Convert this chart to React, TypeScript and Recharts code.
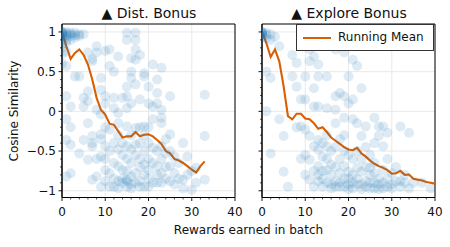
import { ComposedChart, Scatter, Line, XAxis, YAxis, CartesianGrid, ReferenceArea } from 'recharts';

const BLUE = '#1f77b4';
const ORANGE = '#d95f02';
const FONT = '"DejaVu Sans", sans-serif';

const xTicks = [0, 2, 4, 6, 8, 10, 12, 14, 16, 18, 20, 22, 24, 26, 28, 30, 32, 34, 36, 38, 40];
const xMajor = [0, 10, 20, 30, 40];
const yTicks = [-1, -0.9, -0.8, -0.7, -0.6, -0.5, -0.4, -0.3, -0.2, -0.1, 0, 0.1, 0.2, 0.3, 0.4, 0.5, 0.6, 0.7, 0.8, 0.9, 1];
const yMajor = [-1, -0.5, 0, 0.5, 1];
const yDomain = [-1.085, 1.1];

// scatter: [rewards earned, cosine similarity]
const distPoints: [number, number][] = [
  [0, 1.0], [0, 1.0], [0, 0.99], [0, 0.98], [0, 0.97], [0, 0.95], [0, 0.93], [0, 0.9], [0, 0.85], [0, 0.8], [0, 0.72], [0, 0.6],
  [1, 1.0], [1, 0.98], [1, 0.96], [1, 0.94], [1, 0.9], [1, 0.86], [1, 0.75], [1, 0.57], [1, 0.19], [1, -0.1], [1, -0.36], [1, -0.82],
  [2, 0.99], [2, 0.97], [2, 0.95], [2, 0.9], [2, 0.06], [2, -0.2], [2, -0.42], [2, -0.78],
  [3, 0.99], [3, 0.96], [3, 0.93], [3, 0.44],
  [4, 0.97], [4, 0.95], [4, 0.44], [4, -0.53],
  [5, 0.97], [5, 0.17], [5, 0.06], [5, -0.36],
  [6, 0.74], [6, 0.25], [6, 0.13], [6, -0.15], [6, -0.61],
  [7, 0.63], [7, 0.66], [7, -0.31], [7, -0.44], [7, -0.86], [7, -0.4],
  [8, 0.82], [8, 0.74], [8, 0.02], [8, -0.82], [8, -0.6],
  [9, 0.42], [9, 0.27], [9, -0.04], [9, -0.29], [9, -0.57], [9, -0.95], [9, -0.35],
  [10, 0.76], [10, 0.19], [10, 0.1], [10, -0.44], [10, -0.74], [10, -0.88], [10, -0.6], [10, -0.2],
  [11, 0.78], [11, 0.57], [11, -0.23], [11, -0.78], [11, -0.5], [11, -0.95],
  [12, 0.5], [12, 0.17], [12, 0.04], [12, -0.4], [12, -0.95], [12, -0.65], [12, -0.85],
  [13, 0.69], [13, -0.02], [13, -0.15], [13, -0.48], [13, -0.69], [13, -0.88], [13, -0.3], [13, -0.97],
  [14, 0.17], [14, -0.74], [14, -0.55], [14, -0.85], [14, -0.9], [14, -0.4],
  [15, 0.99], [15, 0.9], [15, 0.31], [15, 0.19], [15, 0.04], [15, -0.19], [15, -0.44], [15, -0.86], [15, -0.95], [15, -0.6], [15, -0.75], [15, -0.88],
  [16, 0.67], [16, 0.42], [16, 0.5], [16, 0.1], [16, -0.48], [16, -0.82], [16, -0.92], [16, -0.3], [16, -0.65], [16, -0.97],
  [17, 0.99], [17, 0.9], [17, 0.78], [17, 0.65], [17, 0.34], [17, -0.21], [17, -0.78], [17, -0.55], [17, -0.9], [17, -0.42],
  [18, 0.71], [18, 0.15], [18, -0.4], [18, -0.88], [18, -0.7], [18, -0.2], [18, -0.6], [18, -0.95],
  [19, 0.48], [19, 0.44], [19, -0.19], [19, -0.67], [19, -0.95], [19, -0.5], [19, -0.8], [19, -0.3],
  [20, 0.31], [20, 0.1], [20, -0.4], [20, -0.74], [20, -0.95], [20, -0.6], [20, -0.85], [20, -0.2],
  [21, 0.59], [21, 0.06], [21, -0.1], [21, -0.46], [21, -0.65], [21, -0.9],
  [22, 0.4], [22, 0.23], [22, 0.1], [22, -0.69], [22, -0.9], [22, -0.5], [22, -0.8],
  [23, 0.55], [23, 0.02], [23, -0.08], [23, -0.15], [23, -0.44], [23, -0.78], [23, -0.9], [23, -0.6],
  [24, -0.53], [24, -0.35], [24, -0.85], [24, -0.7],
  [25, 0.19], [25, -0.29], [25, -0.69], [25, -0.88], [25, -0.5],
  [26, -0.57], [26, -0.78], [26, -0.92],
  [27, -0.65], [27, -0.85],
  [28, -0.4], [28, -0.86], [28, -0.97],
  [29, -0.57], [29, -0.8],
  [30, -0.99], [30, -0.75],
  [31, -0.71], [31, -0.9],
  [33, 0.21], [33, -0.31], [33, -0.86],
];

const explorePoints: [number, number][] = [
  [0, 1.0], [0, 1.0], [0, 0.99], [0, 0.98], [0, 0.97], [0, 0.95], [0, 0.93],
  [1, 0.99], [1, 0.96], [1, 0.92], [1, 0.5], [1, 0.0],
  [2, 0.97], [2, 0.9], [2, 0.42], [2, -0.53],
  [3, 0.94],
  [4, 0.82], [4, -0.1],
  [5, -0.31], [5, -0.76],
  [6, -0.95],
  [7, 0.71], [7, 0.44],
  [8, 0.61], [8, 0.31], [8, -0.2],
  [9, 0.15], [9, -0.19], [9, -0.6],
  [10, 0.44], [10, 0.15], [10, -0.23], [10, -0.55], [10, -0.8],
  [11, 0.78], [11, 0.63], [11, -0.31], [11, -0.61], [11, -0.86],
  [12, 0.69], [12, 0.29], [12, 0.06], [12, -0.44], [12, -0.75], [12, -0.95],
  [13, 0.59], [13, 0.44], [13, 0.06], [13, -0.36], [13, -0.48], [13, -0.69], [13, -0.88], [13, -0.8],
  [14, -0.57], [14, -0.95], [14, -0.75], [14, -0.4], [14, -0.85],
  [15, 0.44], [15, 0.04], [15, -0.44], [15, -0.74], [15, -0.9], [15, -0.6], [15, -0.3],
  [16, -0.67], [16, -0.92], [16, -0.8], [16, -0.5], [16, -0.97],
  [17, 0.78], [17, 0.19], [17, 0.02], [17, -0.15], [17, -0.88], [17, -0.7], [17, -0.95], [17, -0.45],
  [18, 0.23], [18, -0.78], [18, -0.95], [18, -0.6], [18, -0.9], [18, -0.35],
  [19, 0.74], [19, 0.19], [19, -0.08], [19, -0.69], [19, -0.85], [19, -0.95], [19, -0.5], [19, -0.3],
  [20, 0.44], [20, 0.1], [20, -0.76], [20, -0.92], [20, -0.98], [20, -0.55], [20, -0.85],
  [21, 0.65], [21, 0.15], [21, -0.1], [21, -0.97], [21, -0.8], [21, -0.6], [21, -0.9],
  [22, 0.57], [22, -0.15], [22, -0.71], [22, -0.92], [22, -0.5], [22, -0.85],
  [23, 0.29], [23, -0.31], [23, -0.76], [23, -0.92], [23, -0.98], [23, -0.6],
  [24, -0.19], [24, -0.88], [24, -0.7], [24, -0.95], [24, -0.45],
  [25, -0.71], [25, -0.9], [25, -0.97], [25, -0.55], [25, -0.8],
  [26, -0.08], [26, -0.4], [26, -0.78], [26, -0.97], [26, -0.9], [26, -0.65],
  [27, -0.19], [27, -0.31], [27, -0.92], [27, -0.85], [27, -0.98],
  [28, -0.19], [28, -0.44], [28, -0.74], [28, -0.97], [28, -0.9],
  [29, -0.27], [29, -0.85], [29, -0.95], [29, -0.6],
  [30, -0.78], [30, -0.92], [30, -0.97],
  [31, -0.88], [31, -0.7],
  [32, -0.19], [32, -0.88], [32, -0.95],
  [33, -0.9], [33, -0.8],
  [34, -0.27], [34, -0.97],
  [35, -0.9],
  [37, -0.9],
  [39, -0.97],
];

// running means
const distMeanX = [0, 1, 2, 3, 4, 5, 6, 7, 8, 9, 10, 11, 12, 13, 14, 15, 16, 17, 18, 19, 20, 21, 22, 23, 24, 25, 26, 27, 28, 29, 30, 31, 32, 33];
const distMean = [1.0, 0.82, 0.66, 0.735, 0.78, 0.71, 0.59, 0.4, 0.17, 0.02, -0.04, -0.155, -0.17, -0.25, -0.33, -0.315, -0.315, -0.26, -0.315, -0.295, -0.29, -0.315, -0.36, -0.41, -0.5, -0.53, -0.6, -0.62, -0.65, -0.69, -0.735, -0.77, -0.69, -0.63];
const exploreMeanX = [0, 1, 2, 3, 4, 5, 6, 7, 8, 9, 10, 11, 12, 13, 14, 15, 16, 17, 18, 19, 20, 21, 22, 23, 24, 25, 26, 27, 28, 29, 30, 31, 32, 33, 34, 35, 36, 37, 38, 39, 40];
const exploreMean = [1.0, 0.86, 0.685, 0.78, 0.63, 0.315, -0.06, -0.1, -0.03, -0.03, -0.09, -0.1, -0.15, -0.22, -0.2, -0.26, -0.33, -0.37, -0.41, -0.45, -0.48, -0.49, -0.46, -0.53, -0.57, -0.62, -0.66, -0.69, -0.71, -0.74, -0.785, -0.78, -0.75, -0.8, -0.795, -0.85, -0.86, -0.87, -0.89, -0.9, -0.91];

const isMajor = (list: number[], v: number) => list.some(m => Math.abs(m - v) < 1e-6);
const fmtY = (v: number) => (v < 0 ? '\u2212' + String(-v) : String(v));

function XTick(props: any) {
  const { x, y, payload } = props;
  const v = payload.value;
  const major = isMajor(xMajor, v);
  return (
    <g>
      <line x1={x} x2={x} y1={y} y2={y + (major ? 3.5 : 2)} stroke="#000" strokeWidth={major ? 0.9 : 0.7} />
      {major && (
        <text x={x} y={y + 18.5} textAnchor="middle" fontSize={12} fontFamily={FONT} fill="#111">{v}</text>
      )}
    </g>
  );
}

function YTick(props: any) {
  const { x, y, payload, showLabel } = props;
  const v = payload.value;
  const major = isMajor(yMajor, v);
  return (
    <g>
      <line x1={x - (major ? 3.5 : 2)} x2={x} y1={y} y2={y} stroke="#000" strokeWidth={major ? 0.9 : 0.7} />
      {major && showLabel && (
        <text x={x - 6} y={y} dy="0.36em" textAnchor="end" fontSize={12} fontFamily={FONT} fill="#111">{fmtY(v)}</text>
      )}
    </g>
  );
}

function Panel({ points, meanX, meanY, yWidth, width, right, showLabels }: {
  points: [number, number][];
  meanX: number[];
  meanY: number[];
  yWidth: number;
  width: number;
  right: number;
  showLabels: boolean;
}) {
  const scatterData = points.map(([x, y]) => ({ x, y }));
  const lineData = meanX.map((x, i) => ({ x, y: meanY[i] }));
  return (
    <ComposedChart width={width} height={247} margin={{ top: 24, right, bottom: 29.5, left: 0 }}>
      <CartesianGrid horizontalValues={yMajor} verticalValues={xMajor} stroke="#e6e6e6" strokeWidth={0.9} />
      <XAxis
        type="number" dataKey="x" domain={[0, 40]} ticks={xTicks} interval={0} allowDataOverflow
        height={20} tickSize={0} tickMargin={0} tickLine={false} axisLine={{ stroke: '#000', strokeWidth: 1 }}
        tick={<XTick />}
      />
      <YAxis
        type="number" dataKey="y" domain={yDomain} ticks={yTicks} interval={0} allowDataOverflow
        width={yWidth} tickSize={0} tickMargin={0} tickLine={false} axisLine={{ stroke: '#000', strokeWidth: 1 }}
        tick={<YTick showLabel={showLabels} />}
      />
      <Scatter
        data={scatterData} isAnimationActive={false}
        shape={(p: any) => <circle cx={p.cx} cy={p.cy} r={5} fill={BLUE} fillOpacity={0.15} />}
      />
      <Line
        data={lineData} dataKey="y" type="linear" stroke={ORANGE} strokeWidth={2.1} dot={false}
        isAnimationActive={false}
      />
      <ReferenceArea x1={0} x2={40} y1={yDomain[0]} y2={yDomain[1]} fill="none" stroke="#000" strokeWidth={1} ifOverflow="visible" />
    </ComposedChart>
  );
}

export default function App() {
  return (
    <div style={{ position: 'absolute', left: 0, top: 0, width: 450, height: 247, background: '#fff', fontFamily: FONT }}>
      <div style={{ position: 'absolute', left: 0, top: 0 }}>
        <Panel points={distPoints} meanX={distMeanX} meanY={distMean} yWidth={62} width={250} right={15} showLabels />
      </div>
      <div style={{ position: 'absolute', left: 240, top: 0 }}>
        <Panel points={explorePoints} meanX={exploreMeanX} meanY={exploreMean} yWidth={22} width={210} right={15} showLabels={false} />
      </div>
      <div style={{
        position: 'absolute', left: 296, top: 24, width: 138, height: 27, border: '1px solid #333',
        background: '#fff', boxSizing: 'border-box',
      }}>
        <div style={{ position: 'absolute', left: 6, top: 12, width: 28, height: 2, background: ORANGE }} />
        <div style={{ position: 'absolute', left: 41, top: 5, fontSize: 12, lineHeight: '14px', color: '#111', whiteSpace: 'nowrap' }}>
          Running Mean
        </div>
      </div>
      <svg width={450} height={247} style={{ position: 'absolute', left: 0, top: 0, pointerEvents: 'none' }}>
        <text x={149} y={18} textAnchor="middle" fontSize={14} fontFamily={FONT} fill="#111">▲ Dist. Bonus</text>
        <text x={349} y={18} textAnchor="middle" fontSize={14} fontFamily={FONT} fill="#111">▲ Explore Bonus</text>
        <text x={248.5} y={234} textAnchor="middle" fontSize={12} fontFamily={FONT} fill="#111">Rewards earned in batch</text>
        <text x={18} y={111} transform="rotate(-90 18 111)" textAnchor="middle" fontSize={12} fontFamily={FONT} fill="#111">Cosine Similarity</text>
      </svg>
    </div>
  );
}
